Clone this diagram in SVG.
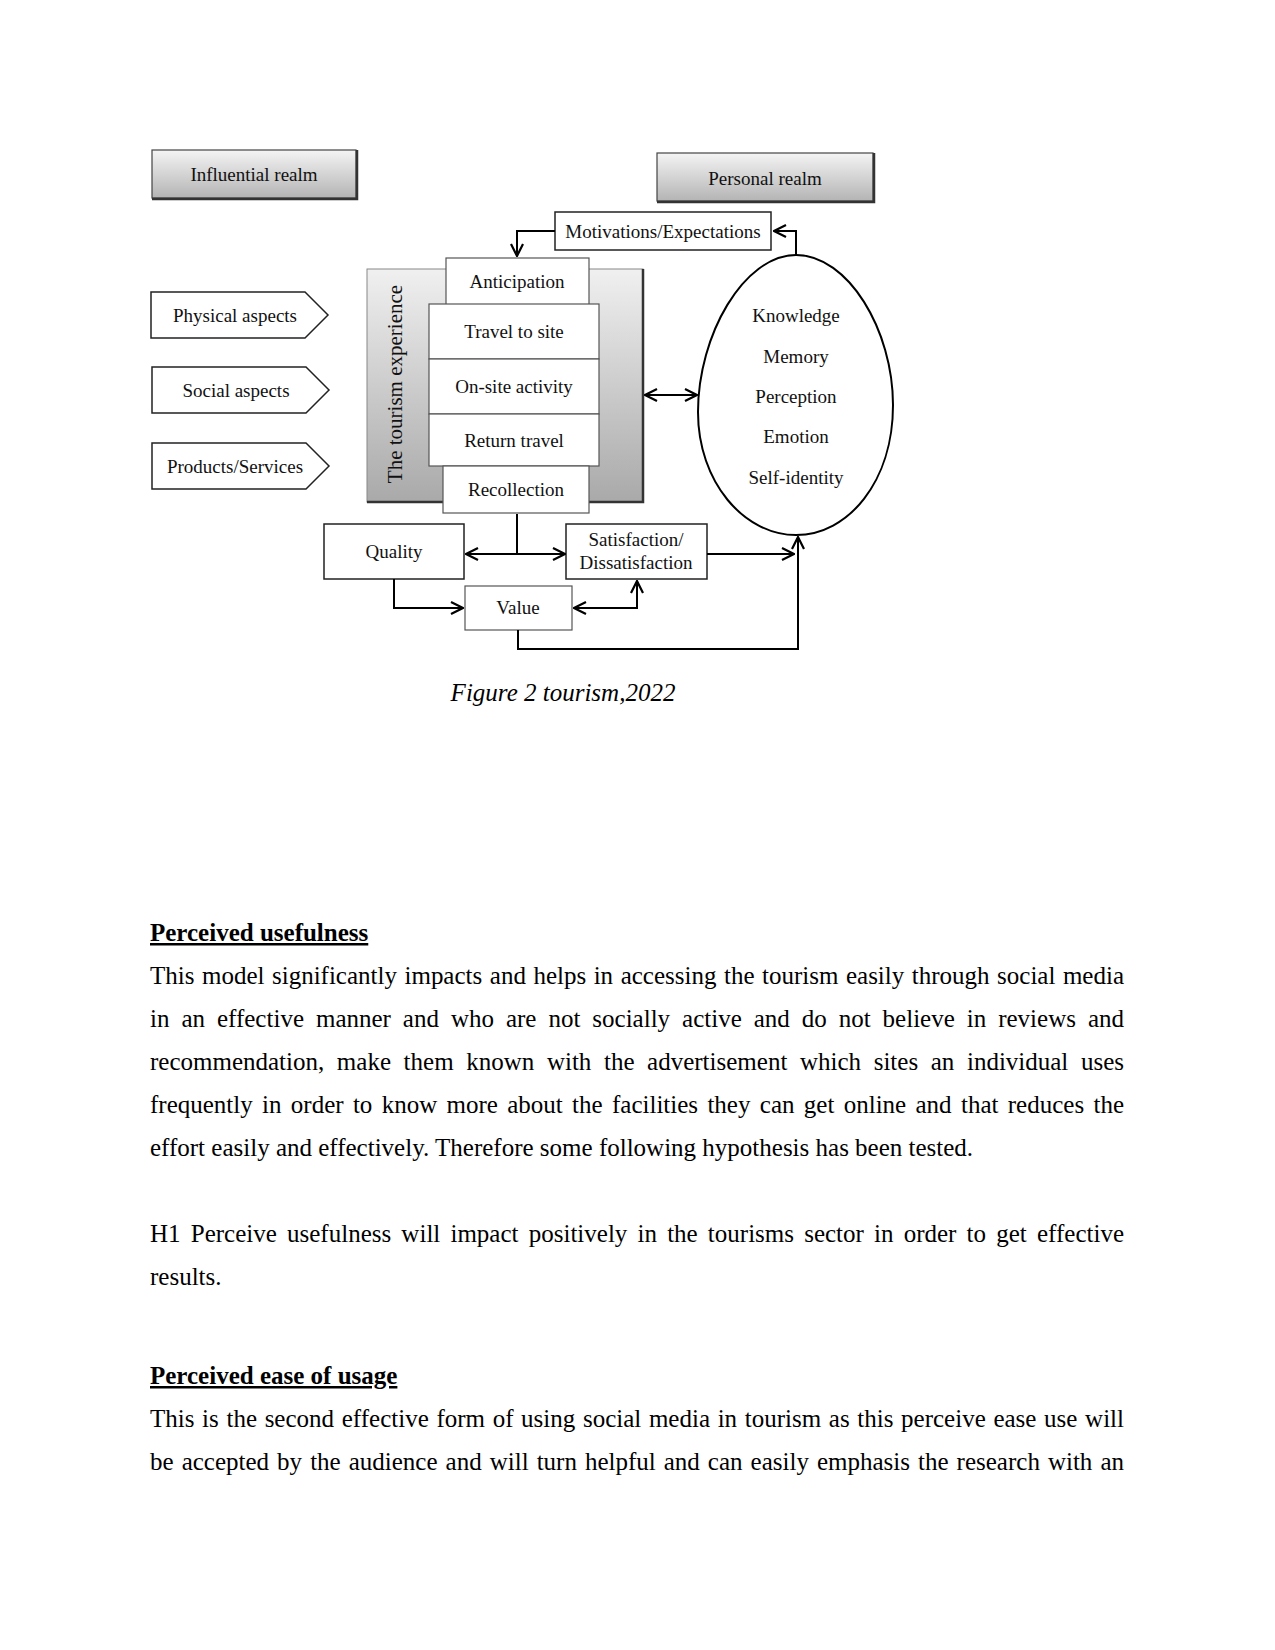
<svg xmlns="http://www.w3.org/2000/svg" width="1275" height="1650" viewBox="0 0 1275 1650">
<defs>
<linearGradient id="gv" x1="0" y1="0" x2="0" y2="1">
<stop offset="0" stop-color="#f4f4f4"/>
<stop offset="1" stop-color="#b4b4b4"/>
</linearGradient>
<linearGradient id="gp" x1="0" y1="0" x2="0" y2="1">
<stop offset="0" stop-color="#f0f0f0"/>
<stop offset="1" stop-color="#a9a9a9"/>
</linearGradient>
<marker id="ah" viewBox="0 0 14 14" refX="13" refY="7" markerWidth="14" markerHeight="14" markerUnits="userSpaceOnUse" orient="auto-start-reverse">
<path d="M1,1 L13,7 L1,13" fill="none" stroke="#000" stroke-width="2.2"/>
</marker>
</defs>
<style>
.d{font-family:"Liberation Serif","Times New Roman",serif;font-size:19px;fill:#111;text-anchor:middle}
.box{fill:#fff;stroke:#222;stroke-width:1.5}
.sbox{fill:#fff;stroke:#555;stroke-width:1.2}
.realm{fill:url(#gv);stroke:#444;stroke-width:1.2}
.shadow{fill:none;stroke:#333;stroke-width:2.5}
.c{fill:none;stroke:#000;stroke-width:2}
.b{font-family:"Liberation Serif","Times New Roman",serif;font-size:25px;fill:#000}
.h{font-weight:bold;text-decoration:underline}
</style>
<rect width="1275" height="1650" fill="#fff"/>

<g id="influential-realm">
<rect class="realm" x="152" y="150" width="204" height="48"/>
<path class="shadow" d="M152,199 H357 V150"/>
<text class="d" x="254" y="181">Influential realm</text>
</g>
<g id="personal-realm">
<rect class="realm" x="657" y="153" width="216" height="48"/>
<path class="shadow" d="M657,202 H874 V153"/>
<text class="d" x="765" y="185">Personal realm</text>
</g>

<g id="physical-aspects">
<path class="box" d="M151,292 H305 L328,315 L305,338 H151 Z"/>
<text class="d" x="235" y="322">Physical aspects</text>
</g>
<g id="social-aspects">
<path class="box" d="M152,367 H306 L329,390 L306,413 H152 Z"/>
<text class="d" x="236" y="397">Social aspects</text>
</g>
<g id="products-services">
<path class="box" d="M152,443 H306 L329,466 L306,489 H152 Z"/>
<text class="d" x="235" y="473">Products/Services</text>
</g>

<g id="tourism-experience">
<rect x="367" y="269" width="276" height="233" fill="url(#gp)" stroke="#888" stroke-width="1"/>
<path class="shadow" d="M367,502 H643 V269"/>
<text class="d" style="font-size:21px" transform="translate(402,384) rotate(-90)">The tourism experience</text>
</g>
<g id="anticipation">
<rect class="sbox" x="446" y="258" width="143" height="47"/>
<text class="d" x="517" y="288">Anticipation</text>
</g>
<g id="travel-to-site">
<rect class="sbox" x="429" y="304" width="170" height="55"/>
<text class="d" x="514" y="338">Travel to site</text>
</g>
<g id="on-site-activity">
<rect class="sbox" x="429" y="359" width="170" height="55"/>
<text class="d" x="514" y="393">On-site activity</text>
</g>
<g id="return-travel">
<rect class="sbox" x="429" y="414" width="170" height="52"/>
<text class="d" x="514" y="447">Return travel</text>
</g>
<g id="recollection">
<rect class="sbox" x="443" y="466" width="146" height="47"/>
<text class="d" x="516" y="496">Recollection</text>
</g>

<g id="motivations">
<rect class="box" x="555" y="212" width="216" height="38"/>
<text class="d" x="663" y="238">Motivations/Expectations</text>
</g>

<g id="personal-factors">
<path d="M796,255 C744,255 698,335 698,412 C698,482 744,535 796,535 C848,535 893,482 893,405 C893,330 848,255 796,255 Z" fill="#fff" stroke="#000" stroke-width="2"/>
<text class="d" x="796" y="322">Knowledge</text>
<text class="d" x="796" y="363">Memory</text>
<text class="d" x="796" y="403">Perception</text>
<text class="d" x="796" y="443">Emotion</text>
<text class="d" x="796" y="484">Self-identity</text>
</g>

<g id="quality">
<rect class="box" x="324" y="524" width="140" height="55"/>
<text class="d" x="394" y="558">Quality</text>
</g>
<g id="satisfaction">
<rect class="box" x="566" y="524" width="141" height="55"/>
<text class="d" x="636" y="546">Satisfaction/</text>
<text class="d" x="636" y="569">Dissatisfaction</text>
</g>
<g id="value">
<rect class="sbox" x="465" y="586" width="107" height="44"/>
<text class="d" x="518" y="614">Value</text>
</g>

<g id="connectors">
<path class="c" d="M555,231 H517 V256" marker-end="url(#ah)"/>
<path class="c" d="M796,255 V231 H774" marker-end="url(#ah)"/>
<path class="c" d="M645,395 H697" marker-start="url(#ah)" marker-end="url(#ah)"/>
<path class="c" d="M517,514 V554"/>
<path class="c" d="M466,554 H565" marker-start="url(#ah)" marker-end="url(#ah)"/>
<path class="c" d="M394,579 V608 H463" marker-end="url(#ah)"/>
<path class="c" d="M574,608 H637 V581" marker-start="url(#ah)" marker-end="url(#ah)"/>
<path class="c" d="M707,554 H794" marker-end="url(#ah)"/>
<path class="c" d="M518,630 V649 H798 V537" marker-end="url(#ah)"/>
</g>

<text x="563" y="701" style="font-family:'Liberation Serif','Times New Roman',serif;font-size:25px;font-style:italic;text-anchor:middle" fill="#000">Figure 2 tourism,2022</text>

<g id="body-text">
<text class="b h" x="150" y="941">Perceived usefulness</text>
<text class="b" x="150" y="984" word-spacing="1.26" textLength="974" lengthAdjust="spacing">This model significantly impacts and helps in accessing the tourism easily through social media</text>
<text class="b" x="150" y="1027" word-spacing="5.68" textLength="974" lengthAdjust="spacing">in an effective manner and who are not socially active and do not believe in reviews and</text>
<text class="b" x="150" y="1070" word-spacing="6.36" textLength="974" lengthAdjust="spacing">recommendation, make them known with the advertisement which sites an individual uses</text>
<text class="b" x="150" y="1113" word-spacing="3.07" textLength="974" lengthAdjust="spacing">frequently in order to know more about the facilities they can get online and that reduces the</text>
<text class="b" x="150" y="1156">effort easily and effectively. Therefore some following hypothesis has been tested.</text>
<text class="b" x="150" y="1242" word-spacing="3.91" textLength="974" lengthAdjust="spacing">H1 Perceive usefulness will impact positively in the tourisms sector in order to get effective</text>
<text class="b" x="150" y="1285">results.</text>
<text class="b h" x="150" y="1384">Perceived ease of usage</text>
<text class="b" x="150" y="1427" word-spacing="1.38" textLength="974" lengthAdjust="spacing">This is the second effective form of using social media in tourism as this perceive ease use will</text>
<text class="b" x="150" y="1470" word-spacing="1.78" textLength="974" lengthAdjust="spacing">be accepted by the audience and will turn helpful and can easily emphasis the research with an</text>
</g>
</svg>
